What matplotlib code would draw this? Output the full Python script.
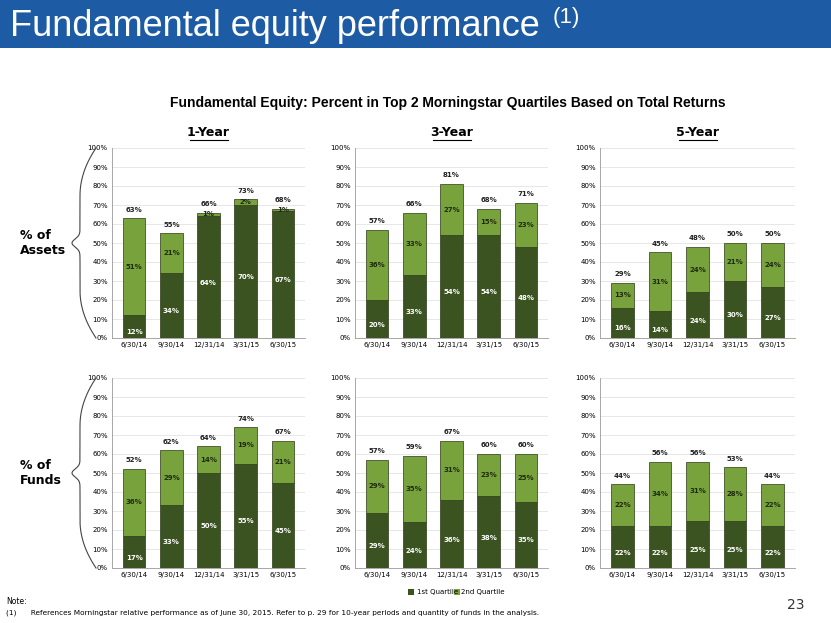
import matplotlib.pyplot as plt
from matplotlib.patches import Rectangle
from matplotlib.ticker import PercentFormatter
import numpy as np

dates = ['6/30/14', '9/30/14', '12/31/14', '3/31/15', '6/30/15']

assets_1y_q1 = [12, 34, 64, 70, 67]
assets_1y_q2 = [51, 21, 1, 2, 1]
assets_1y_tot = [63, 55, 66, 73, 68]
assets_3y_q1 = [20, 33, 54, 54, 48]
assets_3y_q2 = [36, 33, 27, 15, 23]
assets_3y_tot = [57, 66, 81, 68, 71]
assets_5y_q1 = [16, 14, 24, 30, 27]
assets_5y_q2 = [13, 31, 24, 21, 24]
assets_5y_tot = [29, 45, 48, 50, 50]
funds_1y_q1 = [17, 33, 50, 55, 45]
funds_1y_q2 = [36, 29, 14, 19, 21]
funds_1y_tot = [52, 62, 64, 74, 67]
funds_3y_q1 = [29, 24, 36, 38, 35]
funds_3y_q2 = [29, 35, 31, 23, 25]
funds_3y_tot = [57, 59, 67, 60, 60]
funds_5y_q1 = [22, 22, 25, 25, 22]
funds_5y_q2 = [22, 34, 31, 28, 22]
funds_5y_tot = [44, 56, 56, 53, 44]

DARK = '#3b5320'
LIGHT = '#78a33c'
W, H = 831, 623

fig = plt.figure(figsize=(8.31, 6.23), dpi=100)
fig.patch.set_facecolor('white')

# title bar
fig.patches.append(Rectangle((0, 1 - 48 / H), 1, 48 / H, transform=fig.transFigure,
                             facecolor='#1d5ca5', edgecolor='none', zorder=0))
fig.text(10 / W, 1 - 27 / H, 'Fundamental equity performance', color='white',
         fontsize=26, va='center', family='Liberation Sans')
fig.text(553 / W, 1 - 18 / H, '(1)', color='white', fontsize=16, va='center',
         family='Liberation Sans')
fig.text(448 / W, 1 - 103 / H,
         'Fundamental Equity: Percent in Top 2 Morningstar Quartiles Based on Total Returns',
         ha='center', va='center', fontsize=10, fontweight='bold', family='Liberation Sans')

def px_axes(x0, y0, x1, y1):
    return fig.add_axes([x0 / W, 1 - y1 / H, (x1 - x0) / W, (y1 - y0) / H])

def panel(ax, q1, q2, tot):
    x = np.arange(len(dates))
    top = np.array(tot) - np.array(q1)
    ax.bar(x, q1, 0.6, color=DARK, edgecolor='#2a3a16', linewidth=0.5, zorder=3)
    ax.bar(x, top, 0.6, bottom=q1, color=LIGHT, edgecolor='#2a3a16', linewidth=0.5, zorder=3)
    for i in range(len(x)):
        ax.text(x[i], q1[i] / 2 - 3, f'{q1[i]}%', ha='center', va='center',
                color='white', fontsize=5, fontweight='bold', zorder=4)
        ax.text(x[i], q1[i] + top[i] / 2, f'{q2[i]}%', ha='center', va='center',
                color='#1f2a10', fontsize=5, fontweight='bold', zorder=4)
        ax.text(x[i], tot[i] + 3, f'{tot[i]}%', ha='center', va='bottom',
                color='#222222', fontsize=5, fontweight='bold', zorder=4)
    ax.set_xlim(-0.6, 4.6)
    ax.set_ylim(0, 100)
    ax.set_yticks(range(0, 101, 10))
    ax.yaxis.set_major_formatter(PercentFormatter(decimals=0))
    ax.set_xticks(x)
    ax.set_xticklabels(dates)
    ax.tick_params(labelsize=5, length=0, pad=3)
    ax.grid(axis='y', color='#dddddd', linewidth=0.5, zorder=0)
    for s in ['top', 'right']:
        ax.spines[s].set_visible(False)
    for s in ['left', 'bottom']:
        ax.spines[s].set_color('#999999')
        ax.spines[s].set_linewidth(0.6)

cols = [(112, 305), (355, 548), (600, 795)]
rows = [(148, 338), (378, 568)]
data = [[(assets_1y_q1, assets_1y_q2, assets_1y_tot),
         (assets_3y_q1, assets_3y_q2, assets_3y_tot),
         (assets_5y_q1, assets_5y_q2, assets_5y_tot)],
        [(funds_1y_q1, funds_1y_q2, funds_1y_tot),
         (funds_3y_q1, funds_3y_q2, funds_3y_tot),
         (funds_5y_q1, funds_5y_q2, funds_5y_tot)]]
for r, (y0, y1) in enumerate(rows):
    for c, (x0, x1) in enumerate(cols):
        ax = px_axes(x0, y0, x1, y1)
        panel(ax, *data[r][c])

for (x0, x1), t in zip(cols, ['1-Year', '3-Year', '5-Year']):
    xm = (x0 + x1) / 2
    fig.text(xm / W, 1 - 133 / H, t, ha='center', va='center',
             fontsize=9, fontweight='bold')
    fig.add_artist(plt.Line2D([(xm - 19) / W, (xm + 19) / W],
                              [1 - 140 / H, 1 - 140 / H], color='black', lw=0.8))

# braces
for (y0, y1), lab in zip(rows, ['% of\nAssets', '% of\nFunds']):
    ym = (y0 + y1) / 2
    ys = np.linspace(y0, y1, 200)
    t = (ys - y0) / (y1 - y0)
    xs = 80 + 16 * np.where(t < 0.5, np.clip(1 - 4 * t, 0, 1) ** 2,
                            np.clip(4 * t - 3, 0, 1) ** 2)
    xs = xs - 8 * np.exp(-((t - 0.5) / 0.03) ** 2)
    fig.add_artist(plt.Line2D(xs / W, 1 - ys / H, color='#444444', lw=0.8))
    fig.text(20 / W, 1 - ym / H, lab, fontsize=9, fontweight='bold', va='center')

# legend
fig.patches.append(Rectangle((408 / W, 1 - 595 / H), 6 / W, 6 / H, transform=fig.transFigure,
                             facecolor=DARK, edgecolor='none'))
fig.text(417 / W, 1 - 592 / H, '1st Quartile', fontsize=5, va='center')
fig.patches.append(Rectangle((454 / W, 1 - 595 / H), 6 / W, 6 / H, transform=fig.transFigure,
                             facecolor=LIGHT, edgecolor='none'))
fig.text(461 / W, 1 - 592 / H, '2nd Quartile', fontsize=5, va='center')

fig.text(6 / W, 1 - 604 / H, 'Note:', fontsize=5.5)
fig.text(6 / W, 1 - 615 / H, '(1)      References Morningstar relative performance as of June 30, 2015. '
         'Refer to p. 29 for 10-year periods and quantity of funds in the analysis.', fontsize=5.3)
fig.text(805 / W, 1 - 605 / H, '23', fontsize=10, ha='right', va='center', color='#333333')

fig.savefig('out.png', dpi=100)
